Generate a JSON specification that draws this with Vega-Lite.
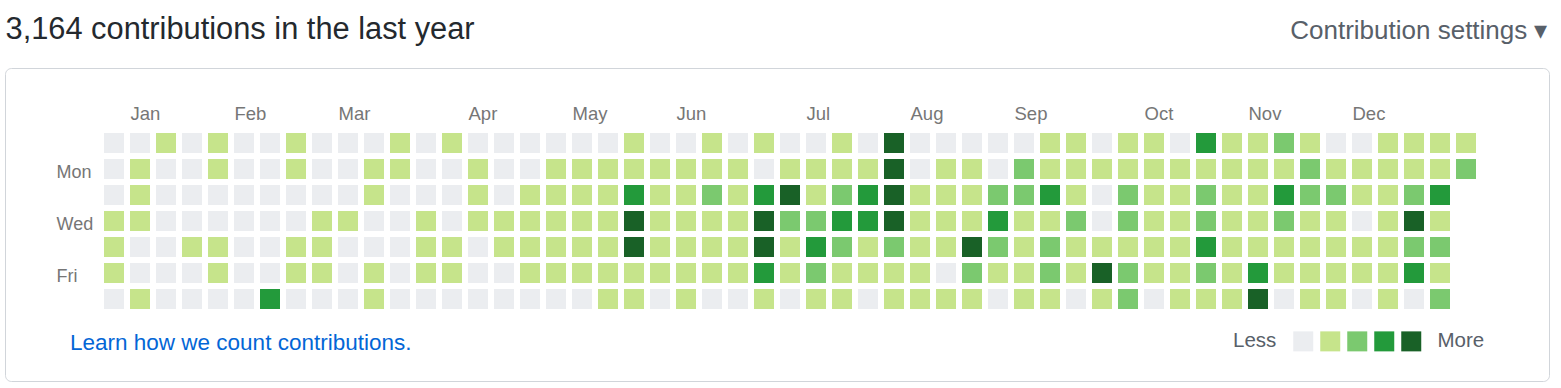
{
  "$schema": "https://vega.github.io/schema/vega-lite/v6.json",
  "width": 1544,
  "height": 313,
  "autosize": {"type": "none"},
  "padding": {"left": 5, "top": 68, "right": 12, "bottom": 7},
  "background": "white",
  "config": {
    "font": "Liberation Sans",
    "view": {"stroke": "#d1d5da", "strokeWidth": 1, "cornerRadius": 6}
  },
  "datasets": {
    "cells": [
      {"week":0,"day":0,"level":0},{"week":0,"day":1,"level":0},{"week":0,"day":2,"level":0},{"week":0,"day":3,"level":1},{"week":0,"day":4,"level":1},{"week":0,"day":5,"level":1},{"week":0,"day":6,"level":0},
      {"week":1,"day":0,"level":0},{"week":1,"day":1,"level":1},{"week":1,"day":2,"level":1},{"week":1,"day":3,"level":1},{"week":1,"day":4,"level":0},{"week":1,"day":5,"level":0},{"week":1,"day":6,"level":1},
      {"week":2,"day":0,"level":1},{"week":2,"day":1,"level":0},{"week":2,"day":2,"level":0},{"week":2,"day":3,"level":0},{"week":2,"day":4,"level":0},{"week":2,"day":5,"level":0},{"week":2,"day":6,"level":0},
      {"week":3,"day":0,"level":0},{"week":3,"day":1,"level":0},{"week":3,"day":2,"level":0},{"week":3,"day":3,"level":0},{"week":3,"day":4,"level":1},{"week":3,"day":5,"level":0},{"week":3,"day":6,"level":0},
      {"week":4,"day":0,"level":1},{"week":4,"day":1,"level":1},{"week":4,"day":2,"level":0},{"week":4,"day":3,"level":0},{"week":4,"day":4,"level":1},{"week":4,"day":5,"level":1},{"week":4,"day":6,"level":0},
      {"week":5,"day":0,"level":0},{"week":5,"day":1,"level":0},{"week":5,"day":2,"level":0},{"week":5,"day":3,"level":0},{"week":5,"day":4,"level":0},{"week":5,"day":5,"level":0},{"week":5,"day":6,"level":0},
      {"week":6,"day":0,"level":0},{"week":6,"day":1,"level":0},{"week":6,"day":2,"level":0},{"week":6,"day":3,"level":0},{"week":6,"day":4,"level":0},{"week":6,"day":5,"level":0},{"week":6,"day":6,"level":3},
      {"week":7,"day":0,"level":1},{"week":7,"day":1,"level":1},{"week":7,"day":2,"level":0},{"week":7,"day":3,"level":0},{"week":7,"day":4,"level":1},{"week":7,"day":5,"level":1},{"week":7,"day":6,"level":0},
      {"week":8,"day":0,"level":0},{"week":8,"day":1,"level":0},{"week":8,"day":2,"level":0},{"week":8,"day":3,"level":1},{"week":8,"day":4,"level":1},{"week":8,"day":5,"level":1},{"week":8,"day":6,"level":0},
      {"week":9,"day":0,"level":0},{"week":9,"day":1,"level":0},{"week":9,"day":2,"level":0},{"week":9,"day":3,"level":1},{"week":9,"day":4,"level":0},{"week":9,"day":5,"level":0},{"week":9,"day":6,"level":0},
      {"week":10,"day":0,"level":0},{"week":10,"day":1,"level":1},{"week":10,"day":2,"level":1},{"week":10,"day":3,"level":0},{"week":10,"day":4,"level":0},{"week":10,"day":5,"level":1},{"week":10,"day":6,"level":1},
      {"week":11,"day":0,"level":1},{"week":11,"day":1,"level":1},{"week":11,"day":2,"level":0},{"week":11,"day":3,"level":0},{"week":11,"day":4,"level":0},{"week":11,"day":5,"level":0},{"week":11,"day":6,"level":0},
      {"week":12,"day":0,"level":0},{"week":12,"day":1,"level":0},{"week":12,"day":2,"level":0},{"week":12,"day":3,"level":1},{"week":12,"day":4,"level":1},{"week":12,"day":5,"level":1},{"week":12,"day":6,"level":0},
      {"week":13,"day":0,"level":1},{"week":13,"day":1,"level":0},{"week":13,"day":2,"level":0},{"week":13,"day":3,"level":0},{"week":13,"day":4,"level":1},{"week":13,"day":5,"level":1},{"week":13,"day":6,"level":0},
      {"week":14,"day":0,"level":0},{"week":14,"day":1,"level":1},{"week":14,"day":2,"level":1},{"week":14,"day":3,"level":1},{"week":14,"day":4,"level":0},{"week":14,"day":5,"level":0},{"week":14,"day":6,"level":0},
      {"week":15,"day":0,"level":0},{"week":15,"day":1,"level":0},{"week":15,"day":2,"level":0},{"week":15,"day":3,"level":1},{"week":15,"day":4,"level":1},{"week":15,"day":5,"level":0},{"week":15,"day":6,"level":0},
      {"week":16,"day":0,"level":0},{"week":16,"day":1,"level":0},{"week":16,"day":2,"level":1},{"week":16,"day":3,"level":1},{"week":16,"day":4,"level":1},{"week":16,"day":5,"level":1},{"week":16,"day":6,"level":0},
      {"week":17,"day":0,"level":0},{"week":17,"day":1,"level":1},{"week":17,"day":2,"level":1},{"week":17,"day":3,"level":1},{"week":17,"day":4,"level":1},{"week":17,"day":5,"level":1},{"week":17,"day":6,"level":0},
      {"week":18,"day":0,"level":0},{"week":18,"day":1,"level":1},{"week":18,"day":2,"level":1},{"week":18,"day":3,"level":1},{"week":18,"day":4,"level":1},{"week":18,"day":5,"level":1},{"week":18,"day":6,"level":0},
      {"week":19,"day":0,"level":0},{"week":19,"day":1,"level":1},{"week":19,"day":2,"level":1},{"week":19,"day":3,"level":1},{"week":19,"day":4,"level":1},{"week":19,"day":5,"level":1},{"week":19,"day":6,"level":1},
      {"week":20,"day":0,"level":1},{"week":20,"day":1,"level":1},{"week":20,"day":2,"level":3},{"week":20,"day":3,"level":4},{"week":20,"day":4,"level":4},{"week":20,"day":5,"level":1},{"week":20,"day":6,"level":1},
      {"week":21,"day":0,"level":0},{"week":21,"day":1,"level":1},{"week":21,"day":2,"level":1},{"week":21,"day":3,"level":1},{"week":21,"day":4,"level":1},{"week":21,"day":5,"level":1},{"week":21,"day":6,"level":0},
      {"week":22,"day":0,"level":0},{"week":22,"day":1,"level":1},{"week":22,"day":2,"level":1},{"week":22,"day":3,"level":1},{"week":22,"day":4,"level":1},{"week":22,"day":5,"level":1},{"week":22,"day":6,"level":1},
      {"week":23,"day":0,"level":1},{"week":23,"day":1,"level":1},{"week":23,"day":2,"level":2},{"week":23,"day":3,"level":1},{"week":23,"day":4,"level":1},{"week":23,"day":5,"level":1},{"week":23,"day":6,"level":0},
      {"week":24,"day":0,"level":0},{"week":24,"day":1,"level":1},{"week":24,"day":2,"level":1},{"week":24,"day":3,"level":1},{"week":24,"day":4,"level":1},{"week":24,"day":5,"level":1},{"week":24,"day":6,"level":0},
      {"week":25,"day":0,"level":1},{"week":25,"day":1,"level":0},{"week":25,"day":2,"level":3},{"week":25,"day":3,"level":4},{"week":25,"day":4,"level":4},{"week":25,"day":5,"level":3},{"week":25,"day":6,"level":1},
      {"week":26,"day":0,"level":0},{"week":26,"day":1,"level":1},{"week":26,"day":2,"level":4},{"week":26,"day":3,"level":2},{"week":26,"day":4,"level":1},{"week":26,"day":5,"level":1},{"week":26,"day":6,"level":0},
      {"week":27,"day":0,"level":0},{"week":27,"day":1,"level":1},{"week":27,"day":2,"level":1},{"week":27,"day":3,"level":2},{"week":27,"day":4,"level":3},{"week":27,"day":5,"level":2},{"week":27,"day":6,"level":1},
      {"week":28,"day":0,"level":1},{"week":28,"day":1,"level":1},{"week":28,"day":2,"level":2},{"week":28,"day":3,"level":3},{"week":28,"day":4,"level":2},{"week":28,"day":5,"level":1},{"week":28,"day":6,"level":1},
      {"week":29,"day":0,"level":0},{"week":29,"day":1,"level":1},{"week":29,"day":2,"level":3},{"week":29,"day":3,"level":3},{"week":29,"day":4,"level":1},{"week":29,"day":5,"level":1},{"week":29,"day":6,"level":0},
      {"week":30,"day":0,"level":4},{"week":30,"day":1,"level":4},{"week":30,"day":2,"level":4},{"week":30,"day":3,"level":4},{"week":30,"day":4,"level":2},{"week":30,"day":5,"level":1},{"week":30,"day":6,"level":1},
      {"week":31,"day":0,"level":0},{"week":31,"day":1,"level":0},{"week":31,"day":2,"level":1},{"week":31,"day":3,"level":1},{"week":31,"day":4,"level":1},{"week":31,"day":5,"level":1},{"week":31,"day":6,"level":1},
      {"week":32,"day":0,"level":0},{"week":32,"day":1,"level":1},{"week":32,"day":2,"level":1},{"week":32,"day":3,"level":1},{"week":32,"day":4,"level":1},{"week":32,"day":5,"level":0},{"week":32,"day":6,"level":1},
      {"week":33,"day":0,"level":0},{"week":33,"day":1,"level":1},{"week":33,"day":2,"level":1},{"week":33,"day":3,"level":1},{"week":33,"day":4,"level":4},{"week":33,"day":5,"level":2},{"week":33,"day":6,"level":1},
      {"week":34,"day":0,"level":0},{"week":34,"day":1,"level":0},{"week":34,"day":2,"level":2},{"week":34,"day":3,"level":3},{"week":34,"day":4,"level":2},{"week":34,"day":5,"level":1},{"week":34,"day":6,"level":0},
      {"week":35,"day":0,"level":0},{"week":35,"day":1,"level":2},{"week":35,"day":2,"level":2},{"week":35,"day":3,"level":1},{"week":35,"day":4,"level":1},{"week":35,"day":5,"level":1},{"week":35,"day":6,"level":1},
      {"week":36,"day":0,"level":1},{"week":36,"day":1,"level":1},{"week":36,"day":2,"level":3},{"week":36,"day":3,"level":1},{"week":36,"day":4,"level":2},{"week":36,"day":5,"level":2},{"week":36,"day":6,"level":1},
      {"week":37,"day":0,"level":1},{"week":37,"day":1,"level":1},{"week":37,"day":2,"level":1},{"week":37,"day":3,"level":2},{"week":37,"day":4,"level":1},{"week":37,"day":5,"level":1},{"week":37,"day":6,"level":0},
      {"week":38,"day":0,"level":0},{"week":38,"day":1,"level":1},{"week":38,"day":2,"level":0},{"week":38,"day":3,"level":0},{"week":38,"day":4,"level":1},{"week":38,"day":5,"level":4},{"week":38,"day":6,"level":1},
      {"week":39,"day":0,"level":1},{"week":39,"day":1,"level":1},{"week":39,"day":2,"level":2},{"week":39,"day":3,"level":2},{"week":39,"day":4,"level":1},{"week":39,"day":5,"level":2},{"week":39,"day":6,"level":2},
      {"week":40,"day":0,"level":1},{"week":40,"day":1,"level":1},{"week":40,"day":2,"level":1},{"week":40,"day":3,"level":1},{"week":40,"day":4,"level":1},{"week":40,"day":5,"level":1},{"week":40,"day":6,"level":0},
      {"week":41,"day":0,"level":0},{"week":41,"day":1,"level":1},{"week":41,"day":2,"level":1},{"week":41,"day":3,"level":1},{"week":41,"day":4,"level":1},{"week":41,"day":5,"level":1},{"week":41,"day":6,"level":1},
      {"week":42,"day":0,"level":3},{"week":42,"day":1,"level":1},{"week":42,"day":2,"level":2},{"week":42,"day":3,"level":2},{"week":42,"day":4,"level":3},{"week":42,"day":5,"level":2},{"week":42,"day":6,"level":1},
      {"week":43,"day":0,"level":1},{"week":43,"day":1,"level":1},{"week":43,"day":2,"level":1},{"week":43,"day":3,"level":1},{"week":43,"day":4,"level":1},{"week":43,"day":5,"level":1},{"week":43,"day":6,"level":1},
      {"week":44,"day":0,"level":1},{"week":44,"day":1,"level":1},{"week":44,"day":2,"level":1},{"week":44,"day":3,"level":1},{"week":44,"day":4,"level":1},{"week":44,"day":5,"level":3},{"week":44,"day":6,"level":4},
      {"week":45,"day":0,"level":2},{"week":45,"day":1,"level":1},{"week":45,"day":2,"level":3},{"week":45,"day":3,"level":2},{"week":45,"day":4,"level":1},{"week":45,"day":5,"level":1},{"week":45,"day":6,"level":0},
      {"week":46,"day":0,"level":1},{"week":46,"day":1,"level":2},{"week":46,"day":2,"level":2},{"week":46,"day":3,"level":1},{"week":46,"day":4,"level":1},{"week":46,"day":5,"level":1},{"week":46,"day":6,"level":1},
      {"week":47,"day":0,"level":0},{"week":47,"day":1,"level":1},{"week":47,"day":2,"level":2},{"week":47,"day":3,"level":1},{"week":47,"day":4,"level":1},{"week":47,"day":5,"level":1},{"week":47,"day":6,"level":1},
      {"week":48,"day":0,"level":0},{"week":48,"day":1,"level":1},{"week":48,"day":2,"level":1},{"week":48,"day":3,"level":0},{"week":48,"day":4,"level":1},{"week":48,"day":5,"level":1},{"week":48,"day":6,"level":0},
      {"week":49,"day":0,"level":1},{"week":49,"day":1,"level":1},{"week":49,"day":2,"level":1},{"week":49,"day":3,"level":1},{"week":49,"day":4,"level":1},{"week":49,"day":5,"level":1},{"week":49,"day":6,"level":1},
      {"week":50,"day":0,"level":1},{"week":50,"day":1,"level":1},{"week":50,"day":2,"level":2},{"week":50,"day":3,"level":4},{"week":50,"day":4,"level":2},{"week":50,"day":5,"level":3},{"week":50,"day":6,"level":0},
      {"week":51,"day":0,"level":1},{"week":51,"day":1,"level":1},{"week":51,"day":2,"level":3},{"week":51,"day":3,"level":1},{"week":51,"day":4,"level":2},{"week":51,"day":5,"level":1},{"week":51,"day":6,"level":2},
      {"week":52,"day":0,"level":1},{"week":52,"day":1,"level":2}
    ]
  },
  "data": {"name": "cells"},
  "layer": [
    {
      "mark": {"type": "square", "size": 400, "filled": true, "opacity": 1, "strokeWidth": 0},
      "encoding": {
        "x": {
          "field": "week", "type": "quantitative",
          "scale": {"domain": [-4.1923077, 55.1923077], "nice": false, "zero": false},
          "axis": {
            "orient": "top",
            "values": [1, 5, 9, 14, 18, 22, 27, 31, 35, 40, 44, 48],
            "labelExpr": "['Jan','Feb','Mar','Apr','May','Jun','Jul','Aug','Sep','Oct','Nov','Dec'][indexof([1,5,9,14,18,22,27,31,35,40,44,48], datum.value)]",
            "labelAlign": "left", "labelBaseline": "alphabetic",
            "labelPadding": -51, "labelOffset": -10,
            "labelFontSize": 18.5, "labelColor": "#767676",
            "labelOverlap": false, "labelFlush": false, "labelBound": false,
            "ticks": false, "domain": false, "grid": false,
            "title": "3,164 contributions in the last year",
            "titleX": 0, "titleY": -29.7, "titleAlign": "left", "titleBaseline": "alphabetic",
            "titleAngle": 0, "titleFontSize": 30.8, "titleFontWeight": "normal", "titleColor": "#24292e"
          }
        },
        "y": {
          "field": "day", "type": "quantitative",
          "scale": {"domain": [-2.8846154, 9.1538462], "nice": false, "zero": false, "reverse": true},
          "axis": {
            "orient": "left",
            "values": [1, 3, 5],
            "labelExpr": "['Mon','Wed','Fri'][indexof([1,3,5], datum.value)]",
            "labelAlign": "left", "labelBaseline": "alphabetic",
            "labelPadding": -51, "labelOffset": 8.2,
            "labelFontSize": 18, "labelColor": "#767676",
            "labelOverlap": false, "labelFlush": false, "labelBound": false,
            "ticks": false, "domain": false, "grid": false, "title": null
          }
        },
        "color": {
          "field": "level", "type": "ordinal",
          "scale": {"domain": [0, 1, 2, 3, 4], "range": ["#ebedf0", "#c6e48b", "#7bc96f", "#239a3b", "#196127"]},
          "legend": {
            "orient": "none", "legendX": 1228, "legendY": 263,
            "direction": "horizontal",
            "title": "Less", "titleOrient": "left", "titleFontSize": 20.5, "titleFontWeight": "normal",
            "titleColor": "#586069", "titlePadding": 16, "titleBaseline": "middle", "titleAnchor": "middle",
            "symbolType": "square", "symbolSize": 400, "symbolStrokeWidth": 0, "symbolOpacity": 1,
            "labelExpr": "datum.label == '4' ? 'More' : ''",
            "labelFontSize": 20.5, "labelColor": "#586069", "labelOffset": 0,
            "columnPadding": 6, "padding": 0, "offset": 0,
            "encode": {"labels": {"update": {"dx": {"signal": "datum.value == 4 ? 16 : 0"}}}}
          }
        }
      }
    },
    {
      "mark": {"type": "point", "opacity": 0},
      "encoding": {
        "x": {
          "field": "week", "type": "quantitative",
          "axis": {
            "orient": "bottom", "labels": false, "ticks": false, "domain": false, "grid": false,
            "title": "Learn how we count contributions.",
            "titleX": 64.5, "titleY": -31.7, "titleAlign": "left", "titleBaseline": "alphabetic",
            "titleAngle": 0, "titleFontSize": 22.5, "titleFontWeight": "normal", "titleColor": "#0366d6"
          }
        },
        "y": {
          "field": "day", "type": "quantitative",
          "axis": {
            "orient": "right", "labels": false, "ticks": false, "domain": false, "grid": false,
            "title": "Contribution settings ▾",
            "titleX": -2, "titleY": -29.7, "titleAlign": "right", "titleBaseline": "alphabetic",
            "titleAngle": 0, "titleFontSize": 26, "titleFontWeight": "normal", "titleColor": "#586069"
          }
        }
      }
    }
  ],
  "resolve": {"axis": {"x": "independent", "y": "independent"}}
}
